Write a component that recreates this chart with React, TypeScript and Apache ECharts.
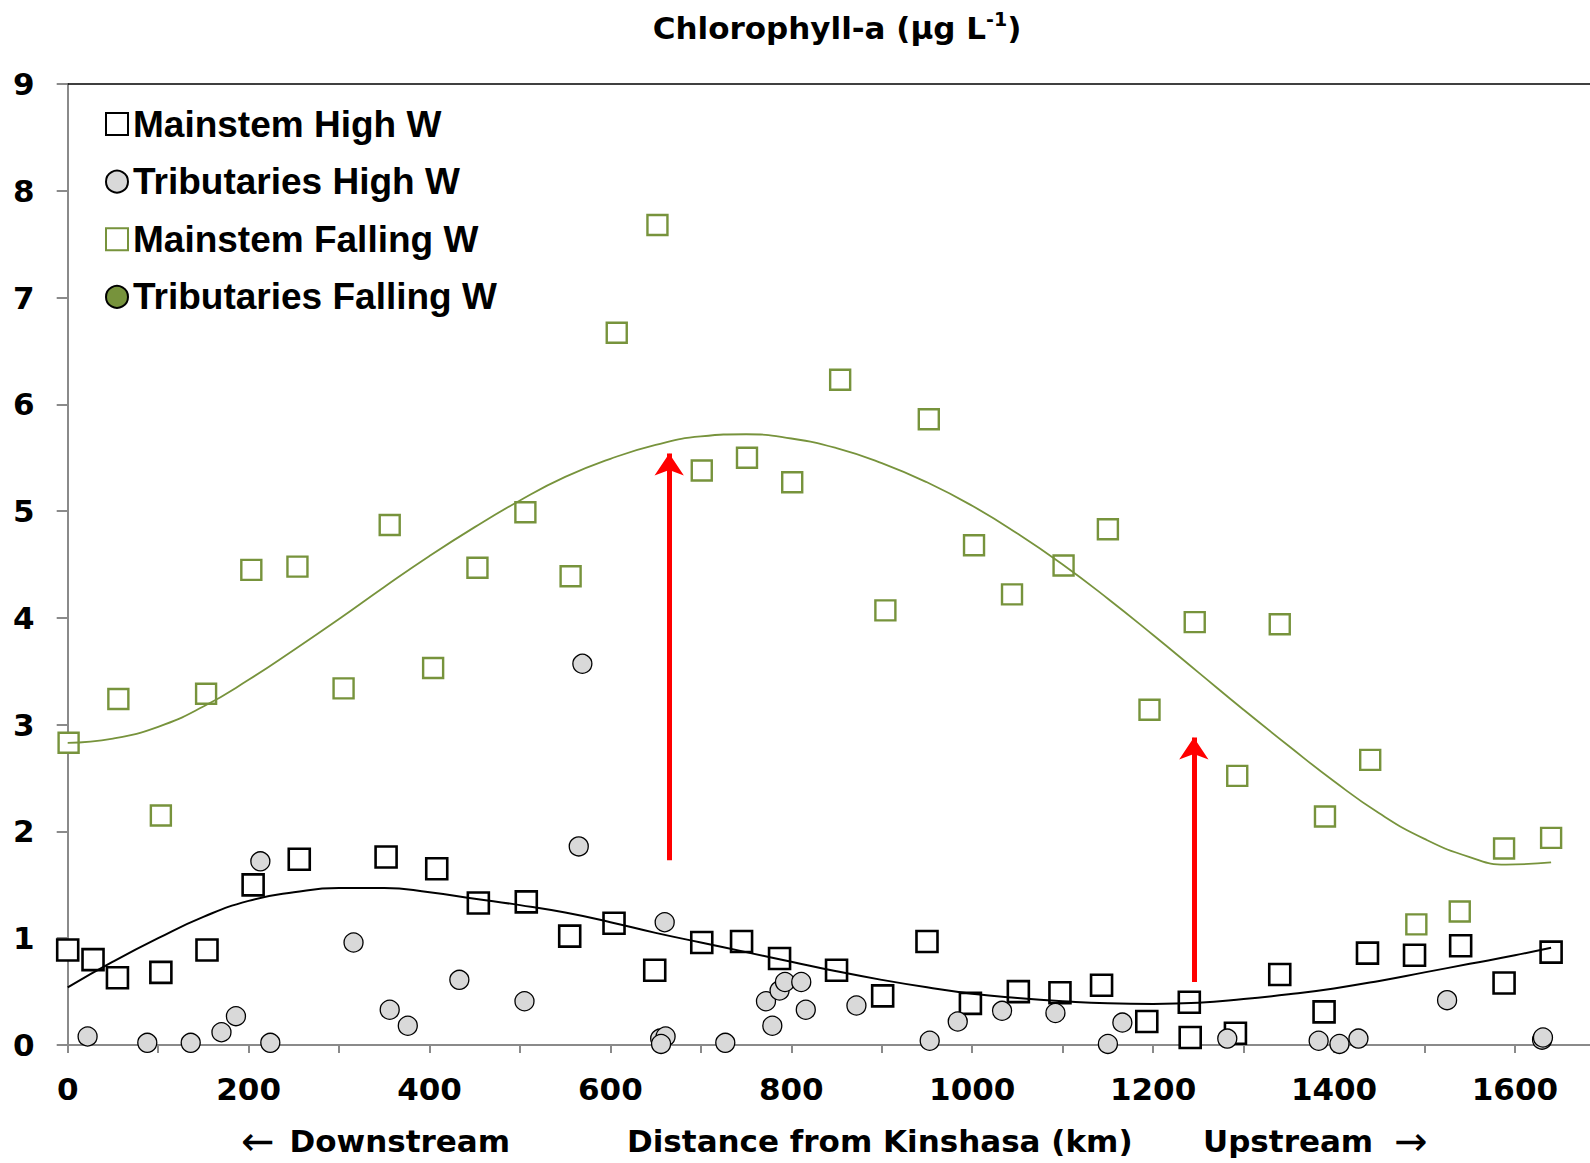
import React, { useEffect, useRef } from "react";
import * as echarts from "echarts";

// ---- data (km from Kinshasa, chlorophyll-a µg/L) ----
const xTickLabels = [0, 200, 400, 600, 800, 1000, 1200, 1400, 1600];
const yTickLabels = [0, 1, 2, 3, 4, 5, 6, 7, 8, 9];

const mainstemHighW: [number, number][] = [
  [0, 0.89], [28, 0.8], [55, 0.63], [103, 0.68], [154, 0.89], [205, 1.5], [256, 1.74],
  [352, 1.76], [408, 1.65], [454, 1.33], [507, 1.34], [555, 1.02], [604, 1.14], [649, 0.7],
  [701, 0.96], [745, 0.97], [787, 0.81], [850, 0.7], [901, 0.46], [950, 0.97], [998, 0.39],
  [1051, 0.5], [1097, 0.49], [1143, 0.56], [1193, 0.22], [1240, 0.4], [1241, 0.07],
  [1291, 0.11], [1340, 0.66], [1389, 0.31], [1437, 0.86], [1489, 0.84], [1540, 0.93],
  [1588, 0.58], [1640, 0.87],
];

const tributariesHighW: [number, number][] = [
  [22, 0.08], [88, 0.02], [136, 0.02], [170, 0.12], [186, 0.27], [213, 1.72], [224, 0.02],
  [316, 0.96], [356, 0.33], [376, 0.18], [433, 0.61], [505, 0.41], [565, 1.86], [569, 3.57],
  [655, 0.06], [661, 0.08], [656, 0.01], [660, 1.15], [727, 0.02], [772, 0.41], [779, 0.18],
  [787, 0.51], [793, 0.59], [811, 0.59], [816, 0.33], [872, 0.37], [953, 0.04], [984, 0.22],
  [1033, 0.32], [1092, 0.3], [1150, 0.01], [1166, 0.21], [1282, 0.06], [1383, 0.04],
  [1406, 0.01], [1427, 0.06], [1525, 0.42], [1630, 0.05], [1631, 0.07],
];

const mainstemFallingW: [number, number][] = [
  [1, 2.83], [56, 3.24], [103, 2.15], [153, 3.29], [203, 4.45], [254, 4.48], [305, 3.34],
  [356, 4.87], [404, 3.53], [453, 4.47], [506, 4.99], [556, 4.39], [607, 6.67], [652, 7.68],
  [701, 5.38], [751, 5.5], [801, 5.27], [854, 6.23], [904, 4.07], [952, 5.86], [1002, 4.68],
  [1044, 4.22], [1101, 4.49], [1150, 4.83], [1196, 3.14], [1246, 3.96], [1293, 2.52],
  [1340, 3.94], [1390, 2.14], [1440, 2.67], [1491, 1.13], [1539, 1.25], [1588, 1.84],
  [1640, 1.94],
];

const tributariesFallingW: [number, number][] = [];

// trend lines
const trendHighW: [number, number][] = [
  [0, 0.54], [50, 0.78], [100, 1.0], [150, 1.2], [200, 1.35], [250, 1.43], [300, 1.47],
  [350, 1.47], [400, 1.43], [450, 1.37], [500, 1.31], [550, 1.24], [600, 1.15], [650, 1.05],
  [700, 0.96], [750, 0.87], [800, 0.78], [850, 0.69], [900, 0.61], [950, 0.54], [1000, 0.48],
  [1050, 0.44], [1100, 0.41], [1150, 0.39], [1200, 0.385], [1250, 0.395], [1300, 0.43],
  [1350, 0.475], [1400, 0.53], [1450, 0.6], [1500, 0.68], [1550, 0.76], [1600, 0.84],
  [1640, 0.91],
];

const trendFallingW: [number, number][] = [
  [0, 2.83], [50, 2.87], [100, 2.98], [150, 3.17], [200, 3.42], [250, 3.7], [300, 3.99],
  [350, 4.29], [400, 4.58], [450, 4.85], [500, 5.1], [550, 5.32], [600, 5.49], [650, 5.62],
  [700, 5.7], [750, 5.72], [800, 5.68], [850, 5.59], [900, 5.45], [950, 5.27], [1000, 5.05],
  [1050, 4.79], [1100, 4.5], [1150, 4.18], [1200, 3.84], [1250, 3.49], [1300, 3.14],
  [1350, 2.8], [1400, 2.47], [1450, 2.17], [1500, 1.93], [1550, 1.76], [1590, 1.69],
  [1640, 1.71],
];

// red arrows: x position (km), start value, tip value
const arrowX = [665, 1245];
const arrowFrom = [1.73, 0.59];
const arrowTo = [5.54, 2.88];

const legendNames = [
  "Mainstem High W",
  "Tributaries High W",
  "Mainstem Falling W",
  "Tributaries Falling W",
];

const GREEN = "#77933C";
const AXIS_GRAY = "#8A8A8A";
const TICK_FONT = "DejaVu Sans";
const X_MAX = 1683;

export default function App() {
  const ref = useRef<HTMLDivElement>(null);

  useEffect(() => {
    if (!ref.current) return;
    const chart = echarts.init(ref.current, undefined, { renderer: "svg" });

    const arrowLines = arrowX.map((x, i) => [
      { coord: [x, arrowFrom[i]] },
      { coord: [x, arrowTo[i]] },
    ]);

    const option: any = {
      animation: false,
      backgroundColor: "#ffffff",
      grid: { left: 67.7, top: 84, height: 961, right: 0, containLabel: false },
      legend: {
        orient: "vertical",
        left: 105,
        top: 105.6,
        padding: 0,
        itemWidth: 22,
        itemHeight: 22,
        itemGap: 20.6,
        selectedMode: false,
        data: legendNames,
        textStyle: {
          fontSize: 37,
          fontWeight: "bold",
          fontFamily: "Liberation Sans",
          color: "#000",
        },
      },
      xAxis: [
        {
          type: "value",
          min: 0,
          max: X_MAX,
          interval: 100,
          position: "bottom",
          axisLine: { show: true, lineStyle: { color: AXIS_GRAY, width: 2 } },
          axisTick: { show: true, length: 8, lineStyle: { color: AXIS_GRAY, width: 2 } },
          axisLabel: {
            margin: 28,
            fontSize: 31,
            fontWeight: "bold",
            fontFamily: TICK_FONT,
            color: "#000",
            showMaxLabel: false,
            formatter: (v: number) => (xTickLabels.indexOf(v) >= 0 ? String(v) : ""),
          },
          splitLine: { show: false },
        },
        {
          type: "value",
          min: 0,
          max: X_MAX,
          position: "top",
          axisLine: { show: true, onZero: false, lineStyle: { color: "#000", width: 1.6 } },
          axisTick: { show: false },
          axisLabel: { show: false },
          splitLine: { show: false },
        },
      ],
      yAxis: {
        type: "value",
        min: 0,
        max: 9,
        interval: 1,
        axisLine: { show: true, lineStyle: { color: AXIS_GRAY, width: 2 } },
        axisTick: { show: true, length: 11, lineStyle: { color: AXIS_GRAY, width: 2 } },
        axisLabel: {
          margin: 33,
          fontSize: 31,
          fontWeight: "bold",
          fontFamily: TICK_FONT,
          color: "#000",
          formatter: (v: number) => (yTickLabels.indexOf(v) >= 0 ? String(v) : ""),
        },
        splitLine: { show: false },
      },
      series: [
        {
          name: "Mainstem High W",
          type: "scatter",
          symbol: "rect",
          symbolSize: 21,
          data: mainstemHighW,
          itemStyle: { color: "#ffffff", borderColor: "#000", borderWidth: 2.6, opacity: 1 },
          z: 2,
          silent: true,
        },
        {
          name: "Tributaries High W",
          type: "scatter",
          symbol: "circle",
          symbolSize: 19,
          data: tributariesHighW,
          itemStyle: { color: "#D9D9D9", borderColor: "#000", borderWidth: 1.3, opacity: 1 },
          z: 4,
          silent: true,
        },
        {
          name: "Mainstem Falling W",
          type: "scatter",
          symbol: "rect",
          symbolSize: 20,
          data: mainstemFallingW,
          itemStyle: { color: "#ffffff", borderColor: GREEN, borderWidth: 2.4, opacity: 1 },
          z: 2,
          silent: true,
        },
        {
          name: "Tributaries Falling W",
          type: "scatter",
          symbol: "circle",
          symbolSize: 19,
          data: tributariesFallingW,
          itemStyle: { color: GREEN, borderColor: "#000", borderWidth: 1.3, opacity: 1 },
          z: 4,
          silent: true,
        },
        {
          name: "Trend Falling W",
          type: "line",
          data: trendFallingW,
          smooth: 0.5,
          showSymbol: false,
          symbol: "none",
          lineStyle: { color: GREEN, width: 1.8 },
          z: 5,
          silent: true,
        },
        {
          name: "Trend High W",
          type: "line",
          data: trendHighW,
          smooth: 0.5,
          showSymbol: false,
          symbol: "none",
          lineStyle: { color: "#000", width: 2 },
          z: 5,
          silent: true,
          markLine: {
            silent: true,
            symbol: ["none", "arrow"],
            symbolSize: 22,
            label: { show: false },
            lineStyle: { color: "#FF0000", width: 5, type: "solid" },
            data: arrowLines,
          },
        },
      ],
      graphic: [
        {
          type: "text",
          x: 837,
          y: 28,
          style: {
            text: "{a|Chlorophyll-a (μg L}{s|-1}{a|)}",
            align: "center",
            verticalAlign: "middle",
            rich: {
              a: { fontSize: 31, fontWeight: "bold", fontFamily: TICK_FONT, fill: "#000" },
              s: {
                fontSize: 19,
                fontWeight: "bold",
                fontFamily: TICK_FONT,
                fill: "#000",
                padding: [0, 0, 18, 0],
              },
            },
          },
        },
        {
          type: "text",
          x: 241,
          y: 1141,
          style: {
            text: "{r|←}{g| }{a|Downstream}",
            align: "left",
            verticalAlign: "middle",
            rich: {
              r: { fontSize: 40, lineHeight: 32, fontWeight: "normal", fontFamily: TICK_FONT, fill: "#000" },
              g: { fontSize: 31, lineHeight: 32, width: 15, fill: "#000" },
              a: { fontSize: 31, lineHeight: 32, fontWeight: "bold", fontFamily: TICK_FONT, fill: "#000" },
            },
          },
        },
        {
          type: "text",
          x: 627,
          y: 1141,
          style: {
            text: "Distance from Kinshasa (km)",
            align: "left",
            verticalAlign: "middle",
            fontSize: 31,
            fontWeight: "bold",
            fontFamily: TICK_FONT,
            fill: "#000",
          },
        },
        {
          type: "text",
          x: 1203,
          y: 1141,
          style: {
            text: "{a|Upstream}{g| }{r|→}",
            align: "left",
            verticalAlign: "middle",
            rich: {
              r: { fontSize: 40, lineHeight: 32, fontWeight: "normal", fontFamily: TICK_FONT, fill: "#000" },
              g: { fontSize: 31, lineHeight: 32, width: 21, fill: "#000" },
              a: { fontSize: 31, lineHeight: 32, fontWeight: "bold", fontFamily: TICK_FONT, fill: "#000" },
            },
          },
        },
      ],
    };

    chart.setOption(option);
    return () => chart.dispose();
  }, []);

  return (
    <div
      ref={ref}
      style={{ position: "absolute", left: 0, top: 0, width: 1590, height: 1163, background: "#fff" }}
    />
  );
}
